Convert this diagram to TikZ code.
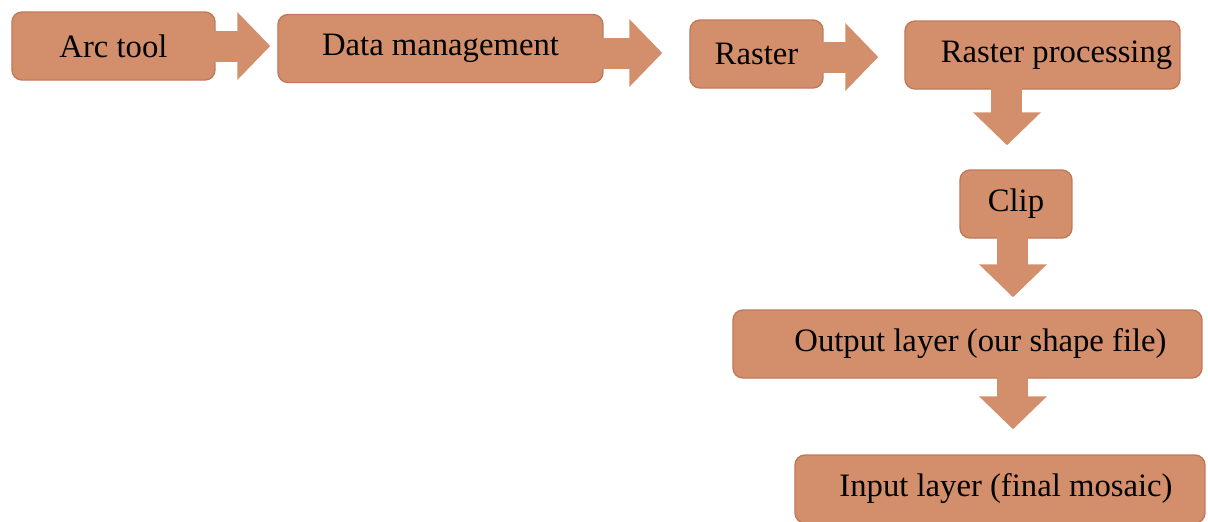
\documentclass[tikz,border=0pt]{standalone}
\usepackage{fontspec}
\setmainfont{Liberation Serif}
\usepackage{tikz}
\usetikzlibrary{arrows.meta,positioning,calc}

\definecolor{boxfill}{RGB}{211,143,108}
\definecolor{boxedge}{RGB}{192,122,90}

\begin{document}
\begin{tikzpicture}[font=\fontsize{9.3}{11}\selectfont,
   bx/.style={draw=boxedge,fill=boxfill,rounded corners=1mm,minimum height=6.8mm,inner sep=0pt},
   blk/.style={line width=3.1mm,draw=boxfill,-{Triangle[width=6.6mm,length=3.3mm]}}]
  \useasboundingbox (0,0) rectangle (12.08,5.21);
  % boxes
  \node[bx,minimum width=20.3mm] (arc) at (1.135,4.75) {Arc tool};
  \node[bx,minimum width=32.5mm] (dm) at (4.405,4.725) {Data management};
  \node[bx,minimum width=13.3mm] (ras) at (7.565,4.67) {Raster};
  \node[bx,minimum width=27.5mm] (rp) at (10.425,4.66) {\hspace*{2.8mm}Raster processing};
  \node[bx,minimum width=11.2mm] (clip) at (10.16,3.17) {Clip};
  \node[bx,minimum width=46.9mm] (out) at (9.675,1.77) {\hspace*{2.6mm}Output layer (our shape file)};
  \node[bx,minimum width=41mm] (inp) at (10.0,0.32) {\hspace*{1.2mm}Input layer (final mosaic)};
  % block arrows
  \draw[blk,shorten >=0.07cm] ([xshift=-0.12cm]arc.east) -- (arc.east -| dm.west);
  \draw[blk,shorten >=0.27cm] ([xshift=-0.11cm,yshift=-0.045cm]dm.east) -- ([yshift=-0.045cm]dm.east -| ras.west);
  \draw[blk,shorten >=0.26cm] ([xshift=-0.11cm,yshift=-0.03cm]ras.east) -- ([yshift=-0.03cm]ras.east -| rp.west);
  \draw[blk,shorten >=0.24cm] ([xshift=-0.355cm,yshift=0.03cm]rp.south) -- ([xshift=-0.355cm]rp.south |- clip.north);
  \draw[blk,shorten >=0.12cm] ([xshift=-0.03cm,yshift=0.05cm]clip.south) -- ([xshift=-0.03cm]clip.south |- out.north);
  \draw[blk,shorten >=0.25cm] ($(clip.south |- out.south)+(-0.03,0.15)$) -- ([xshift=-0.03cm]clip.south |- inp.north);
\end{tikzpicture}
\end{document}
